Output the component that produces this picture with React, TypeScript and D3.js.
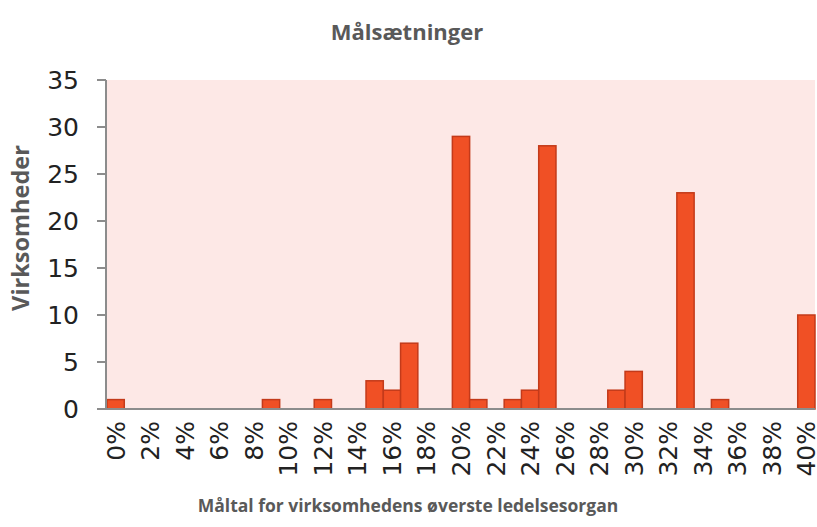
import React from "react";
import * as d3 from "d3";

const categories = d3.range(0, 41).map((d) => d + "%");
const values = [
  1, 0, 0, 0, 0, 0, 0, 0, 0, 1, 0, 0, 1, 0, 0, 3, 2, 7, 0, 0, 29, 1, 0, 1, 2,
  28, 0, 0, 0, 2, 4, 0, 0, 23, 0, 1, 0, 0, 0, 0, 10,
];
const tickLabels = categories.filter((d, i) => i % 2 === 0);
const yTicks = [0, 5, 10, 15, 20, 25, 30, 35];

const width = 817;
const height = 527;
const margin = { top: 80, right: 2, bottom: 118, left: 107 };

export default function App() {
  const x = d3
    .scaleBand()
    .domain(categories)
    .range([margin.left, width - margin.right])
    .padding(0);
  const y = d3
    .scaleLinear()
    .domain([0, 35])
    .range([height - margin.bottom, margin.top]);

  const tickFont = "'DejaVu Sans', Verdana, sans-serif";
  const titleFont = "'Open Sans', sans-serif";

  return (
    <svg
      width={width}
      height={height}
      style={{ position: "absolute", left: 0, top: 0, background: "#fff" }}
    >
      <text
        x={407}
        y={40}
        textAnchor="middle"
        fontFamily={titleFont}
        fontWeight="bold"
        fontSize={22}
        fill="#595959"
      >
        Målsætninger
      </text>
      <rect
        x={margin.left}
        y={margin.top}
        width={width - margin.right - margin.left}
        height={y(0) - margin.top}
        fill="#fde8e6"
      />
      {values.map((v, i) =>
        v > 0 ? (
          <rect
            key={i}
            x={x(categories[i])}
            y={y(v)}
            width={x.bandwidth()}
            height={y(0) - y(v)}
            fill="#f05025"
            stroke="#c33a1a"
            strokeWidth={1.5}
          />
        ) : null
      )}
      <line
        x1={margin.left - 1}
        x2={margin.left - 1}
        y1={margin.top}
        y2={y(0)}
        stroke="#8c8c8c"
        strokeWidth={2}
      />
      <line
        x1={margin.left - 10}
        x2={width - margin.right}
        y1={y(0)}
        y2={y(0)}
        stroke="#8c8c8c"
        strokeWidth={2}
      />
      {yTicks.map((t) => (
        <g key={t}>
          <line
            x1={margin.left - 10}
            x2={margin.left - 1}
            y1={y(t)}
            y2={y(t)}
            stroke="#8c8c8c"
            strokeWidth={2}
          />
          <text
            x={margin.left - 28}
            y={y(t)}
            dy="0.36em"
            textAnchor="end"
            fontFamily={tickFont}
            fontSize={25}
            fill="#222"
          >
            {t}
          </text>
        </g>
      ))}
      {tickLabels.map((t) => (
        <text
          key={t}
          transform={`translate(${(x(t) as number) + x.bandwidth() / 2},${
            y(0) + 12
          }) rotate(-90)`}
          dy="0.36em"
          textAnchor="end"
          fontFamily={tickFont}
          fontSize={25}
          fill="#222"
        >
          {t}
        </text>
      ))}
      <text
        transform={`translate(29,228) rotate(-90)`}
        textAnchor="middle"
        fontFamily={titleFont}
        fontWeight="bold"
        fontSize={23.5}
        fill="#595959"
      >
        Virksomheder
      </text>
      <text
        x={408}
        y={512}
        textAnchor="middle"
        fontFamily={titleFont}
        fontWeight="bold"
        fontSize={17.5}
        fill="#595959"
      >
        Måltal for virksomhedens øverste ledelsesorgan
      </text>
    </svg>
  );
}
